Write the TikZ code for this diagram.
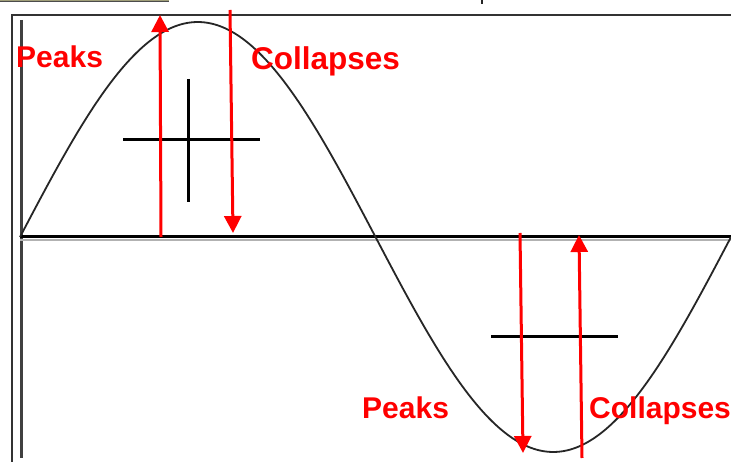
\documentclass[tikz,border=0pt]{standalone}
\usepackage{fontspec}
\setmainfont{Liberation Sans}
\usetikzlibrary{arrows.meta}
\definecolor{arrowred}{RGB}{255,0,0}
\definecolor{barolive}{RGB}{160,158,120}
\tikzset{
  redarrow/.style={draw=arrowred, line width=3pt, -{Triangle[width=17pt,length=17pt]}},
  crossline/.style={draw=black, line width=3pt},
  lbl/.style={text=arrowred, font=\fontsize{30}{33}\selectfont\bfseries, inner sep=0pt, anchor=base west},
}
\begin{document}
\begin{tikzpicture}[x=1pt,y=-1pt]
\useasboundingbox (0,0) rectangle (731,462);
\fill[white] (0,0) rectangle (731,462);
% top-left bar remnant
\fill[barolive] (0,0) rectangle (169,1.5);
\draw[black!70, line width=0.8pt] (0,1.8) -- (169,1.8);
% small text fragment at top
\fill[black!85] (480.5,0) rectangle (483,4);
% frame
\coordinate (ftl) at (12,15);
\coordinate (ftr) at (731,15);
\coordinate (fbl) at (12,462);
\draw[black!80, line width=1.5pt] (fbl) -- (ftl) -- (ftr);
% inner vertical axis
\coordinate (vtop) at (21,20);
\coordinate (vbot) at (21,458);
\draw[black!75, line width=3pt] (vtop) -- (vbot);
% horizontal axis
\coordinate (hl) at (20,236.5);
\coordinate (hr) at (731,236.5);
\draw[black, line width=3.6pt] (hl) -- (hr);
\draw[black!30, line width=1.2pt] (20,240) -- (731,240);
% sine wave
\draw[black!85, line width=1.8pt] plot[smooth, samples=120, domain=20:731] (\x, {237-215*sin((\x-20)/711*360)});
% crosses
\coordinate (c1l) at (123,140);
\coordinate (c1r) at (260,140);
\coordinate (c1t) at (188,79);
\coordinate (c1b) at (188,202);
\draw[crossline] (c1l) -- (c1r);
\draw[crossline] (c1t) -- (c1b);
\coordinate (c2l) at (491,337);
\coordinate (c2r) at (618,337);
\draw[crossline] (c2l) -- (c2r);
% red arrows
\coordinate (a1s) at (161,237);
\coordinate (a1e) at (160,15);
\draw[redarrow] (a1s) -- (a1e);
\coordinate (a2s) at (230,10);
\coordinate (a2e) at (233,233);
\draw[redarrow] (a2s) -- (a2e);
\coordinate (a3s) at (520,233);
\coordinate (a3e) at (523,453);
\draw[redarrow] (a3s) -- (a3e);
\coordinate (a4s) at (582,458);
\coordinate (a4e) at (579,235);
\draw[redarrow] (a4s) -- (a4e);
% labels
\node[lbl] (peaks1) at (16,67.5) {Peaks};
\node[lbl, font=\fontsize{31.5}{34}\selectfont\bfseries] (coll1) at (251,70) {Collapses};
\node[lbl] (peaks2) at (362,418) {Peaks};
\node[lbl] (coll2) at (589,418) {Collapses};
\end{tikzpicture}
\end{document}
